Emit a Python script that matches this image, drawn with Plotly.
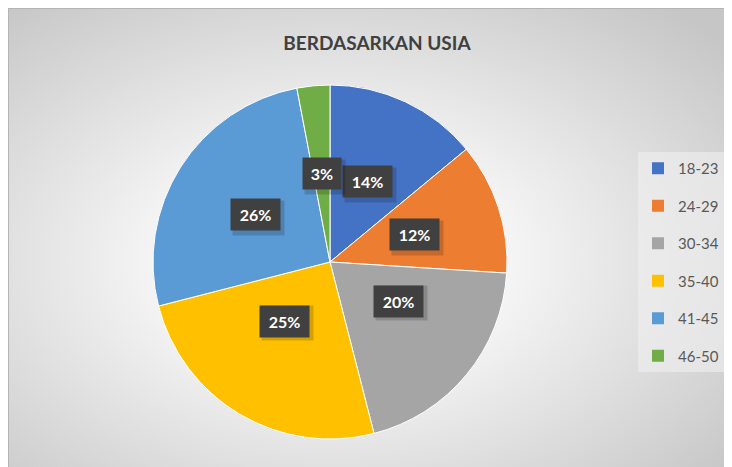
import math
import urllib.parse
import plotly.graph_objects as go

# ---- data ----
categories = ["18-23", "24-29", "30-34", "35-40", "41-45", "46-50"]
percentages = [14, 12, 20, 25, 26, 3]
colors = ["#4472C4", "#ED7D31", "#A5A5A5", "#FFC000", "#5B9BD5", "#70AD47"]
title_text = "BERDASARKAN USIA"

W, H = 724, 459            # figure drawn at page offset (8, 8)
CX, CY, R = 322, 254, 177  # pie centre/radius in figure pixels
FONT = "Lato"

fig = go.Figure()

fig.add_trace(go.Pie(
    labels=categories,
    values=percentages,
    marker=dict(colors=colors, line=dict(color="white", width=1)),
    sort=False,
    direction="clockwise",
    rotation=0,
    textinfo="none",
    hoverinfo="label+percent",
    showlegend=False,
    domain=dict(x=[(CX - R) / W, (CX + R) / W], y=[1 - (CY + R) / H, 1 - (CY - R) / H]),
))

# legend entries (one per category, spaced with group gap)
for lab, col in zip(categories, colors):
    fig.add_trace(go.Scatter(
        x=[None], y=[None], mode="markers", name=lab,
        marker=dict(symbol="square", size=11, color=col),
        legendgroup=lab, showlegend=True, hoverinfo="skip",
    ))

# data labels in dark boxes at mid-angle of each slice
total = sum(percentages)
cum = 0
annotations = []
for v in percentages:
    mid = (cum + v / 2) / total * 2 * math.pi
    cum += v
    px = CX + 0.5 * R * math.sin(mid)
    py = CY - 0.5 * R * math.cos(mid)
    x, y = px / W, 1 - py / H
    txt = f"{round(v / total * 100)}%"
    bw = len(txt) * 11 + 4
    # soft shadow box
    annotations.append(dict(
        x=x, y=y, xref="paper", yref="paper", text=" ", showarrow=False,
        xshift=3, yshift=-3, width=bw + 2, height=22,
        font=dict(family=FONT, size=16, color="rgba(0,0,0,0)"),
        bgcolor="rgba(0,0,0,0.16)", borderpad=6,
    ))
    annotations.append(dict(
        x=x, y=y, xref="paper", yref="paper", text=f"<b>{txt}</b>", showarrow=False,
        width=bw,
        font=dict(family=FONT, size=16, color="white"),
        bgcolor="#404040", borderpad=6,
    ))

svg = (
    '<svg xmlns="http://www.w3.org/2000/svg" width="724" height="459" viewBox="0 0 724 459" preserveAspectRatio="none">'
    '<defs><radialGradient id="g" cx="0.45" cy="0.55" r="0.72">'
    '<stop offset="0" stop-color="#ffffff"/><stop offset="0.35" stop-color="#f4f4f4"/>'
    '<stop offset="1" stop-color="#c6c6c6"/></radialGradient></defs>'
    '<rect width="724" height="459" fill="url(#g)"/></svg>'
)
src = "data:image/svg+xml;charset=utf-8," + urllib.parse.quote(svg)

fig.update_layout(
    width=W, height=H,
    margin=dict(l=0, r=0, t=0, b=0),
    paper_bgcolor="#dcdcdc",
    plot_bgcolor="rgba(0,0,0,0)",
    xaxis=dict(visible=False),
    yaxis=dict(visible=False),
    images=[dict(source=src, xref="paper", yref="paper", x=0, y=1,
                 sizex=1, sizey=1, xanchor="left", yanchor="top",
                 sizing="stretch", layer="below")],
    shapes=[dict(type="rect", xref="paper", yref="paper", x0=0, x1=1.02,
                 y0=-0.02, y1=1, line=dict(color="#b4b4b4", width=2),
                 layer="below")],
    title=dict(text=f"<b>{title_text}</b>", x=369 / W, xanchor="center",
               y=1 - 35 / H, yanchor="middle",
               font=dict(family=FONT, size=19, color="#404040")),
    legend=dict(x=630 / W, xanchor="left", y=1 - 144 / H, yanchor="top",
                bgcolor="rgba(240,240,240,0.6)", tracegroupgap=15,
                font=dict(family=FONT, size=15, color="#595959"),
                itemsizing="constant", itemwidth=30),
    annotations=annotations,
    showlegend=True,
)

fig.write_html(
    "out.html",
    post_script="document.documentElement.style.overflow='hidden';"
                "document.body.style.overflow='hidden';",
)
